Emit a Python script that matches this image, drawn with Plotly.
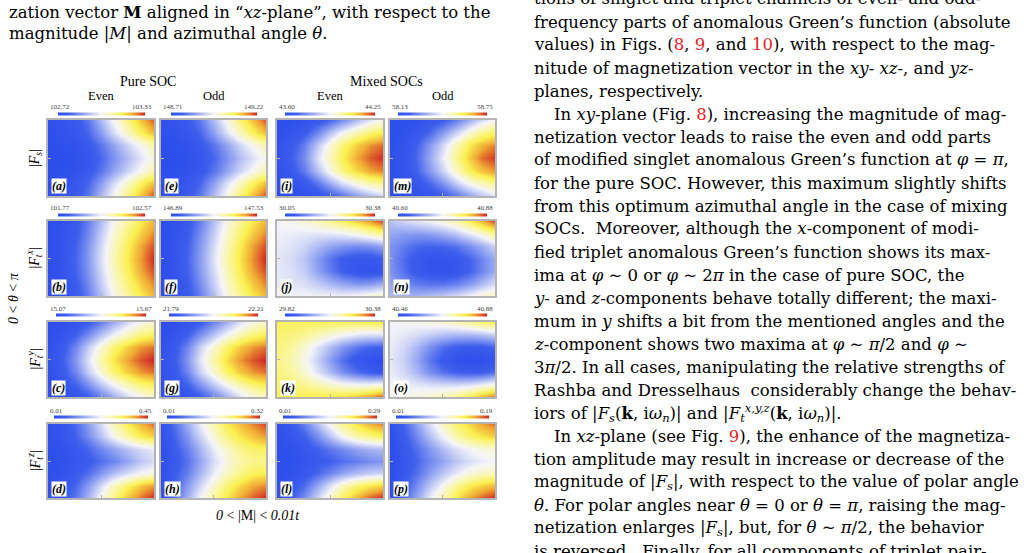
import numpy as np
import plotly.graph_objects as go

W, H = 1029, 553

# ---------------- data ----------------
# sample grid: |M| (horizontal, 0 .. 0.01t) and theta (vertical, 0 .. pi)
M_GRID = [0.0, 0.00125, 0.0025, 0.00375, 0.005, 0.00625, 0.0075, 0.00875, 0.01]
THETA_GRID = [0.0, np.pi / 6, np.pi / 3, np.pi / 2, 2 * np.pi / 3, 5 * np.pi / 6, np.pi]

# colour-bar end values per row (columns: pure even, pure odd, mixed even, mixed odd)
FS_MIN = [102.72, 148.71, 43.60, 58.13]
FS_MAX = [103.33, 149.22, 44.25, 58.75]
FTX_MIN = [101.77, 146.89, 30.05, 40.60]
FTX_MAX = [102.57, 147.53, 30.38, 40.88]
FTY_MIN = [15.07, 21.79, 29.82, 40.46]
FTY_MAX = [15.67, 22.21, 30.38, 40.88]
FTZ_MIN = [0.01, 0.01, 0.01, 0.01]
FTZ_MAX = [0.45, 0.32, 0.29, 0.19]

# relative level (0 = bar minimum, 1 = bar maximum);
# rows listed from theta = pi (top) down to theta = 0 (bottom)
FS_PURE_EVEN = [
    [0.02, 0.04, 0.08, 0.18, 0.35, 0.52, 0.68, 0.82, 0.95],
    [0.01, 0.03, 0.06, 0.14, 0.28, 0.44, 0.58, 0.72, 0.83],
    [0.00, 0.01, 0.03, 0.08, 0.18, 0.30, 0.42, 0.52, 0.62],
    [0.00, 0.00, 0.02, 0.06, 0.14, 0.25, 0.36, 0.46, 0.54],
    [0.00, 0.01, 0.03, 0.08, 0.18, 0.30, 0.42, 0.52, 0.62],
    [0.01, 0.03, 0.06, 0.14, 0.28, 0.44, 0.58, 0.72, 0.83],
    [0.02, 0.04, 0.08, 0.18, 0.35, 0.52, 0.68, 0.82, 0.96],
]
FS_PURE_ODD = [
    [0.02, 0.04, 0.09, 0.19, 0.36, 0.53, 0.69, 0.83, 0.95],
    [0.01, 0.03, 0.06, 0.14, 0.29, 0.45, 0.59, 0.72, 0.83],
    [0.00, 0.01, 0.03, 0.08, 0.18, 0.30, 0.42, 0.52, 0.61],
    [0.00, 0.00, 0.02, 0.06, 0.14, 0.25, 0.36, 0.45, 0.53],
    [0.00, 0.01, 0.03, 0.08, 0.18, 0.30, 0.42, 0.52, 0.61],
    [0.01, 0.03, 0.06, 0.14, 0.29, 0.45, 0.59, 0.72, 0.83],
    [0.02, 0.04, 0.09, 0.19, 0.36, 0.53, 0.69, 0.83, 0.96],
]
FS_MIX_EVEN = [
    [0.00, 0.01, 0.03, 0.07, 0.14, 0.24, 0.36, 0.46, 0.54],
    [0.01, 0.04, 0.10, 0.22, 0.38, 0.52, 0.62, 0.70, 0.74],
    [0.03, 0.08, 0.20, 0.38, 0.55, 0.70, 0.80, 0.88, 0.93],
    [0.04, 0.10, 0.24, 0.44, 0.60, 0.74, 0.86, 0.94, 0.99],
    [0.03, 0.08, 0.19, 0.36, 0.53, 0.68, 0.78, 0.86, 0.90],
    [0.01, 0.03, 0.08, 0.18, 0.32, 0.45, 0.55, 0.62, 0.66],
    [0.00, 0.00, 0.02, 0.05, 0.10, 0.18, 0.28, 0.36, 0.42],
]
FS_MIX_ODD = [
    [0.00, 0.01, 0.02, 0.05, 0.11, 0.20, 0.32, 0.44, 0.52],
    [0.00, 0.02, 0.06, 0.15, 0.28, 0.42, 0.56, 0.66, 0.72],
    [0.01, 0.04, 0.12, 0.26, 0.43, 0.60, 0.74, 0.84, 0.90],
    [0.02, 0.05, 0.14, 0.30, 0.48, 0.65, 0.80, 0.92, 0.98],
    [0.01, 0.04, 0.12, 0.26, 0.42, 0.58, 0.72, 0.82, 0.88],
    [0.00, 0.02, 0.06, 0.14, 0.26, 0.40, 0.52, 0.60, 0.66],
    [0.00, 0.00, 0.02, 0.04, 0.10, 0.18, 0.28, 0.38, 0.46],
]
FTX_PURE_EVEN = [
    [0.00, 0.02, 0.08, 0.20, 0.36, 0.52, 0.64, 0.74, 0.84],
    [0.00, 0.03, 0.10, 0.23, 0.40, 0.56, 0.69, 0.80, 0.90],
    [0.00, 0.04, 0.12, 0.26, 0.43, 0.59, 0.73, 0.86, 0.96],
    [0.00, 0.04, 0.13, 0.27, 0.45, 0.61, 0.75, 0.88, 1.00],
    [0.00, 0.04, 0.12, 0.26, 0.43, 0.59, 0.73, 0.86, 0.96],
    [0.00, 0.03, 0.10, 0.23, 0.40, 0.56, 0.69, 0.80, 0.90],
    [0.00, 0.02, 0.08, 0.20, 0.36, 0.52, 0.64, 0.74, 0.84],
]
FTX_PURE_ODD = [
    [0.00, 0.02, 0.08, 0.20, 0.37, 0.53, 0.65, 0.75, 0.84],
    [0.00, 0.03, 0.10, 0.24, 0.41, 0.57, 0.70, 0.81, 0.90],
    [0.00, 0.04, 0.12, 0.27, 0.44, 0.60, 0.74, 0.87, 0.96],
    [0.00, 0.04, 0.13, 0.28, 0.46, 0.62, 0.76, 0.89, 1.00],
    [0.00, 0.04, 0.12, 0.27, 0.44, 0.60, 0.74, 0.87, 0.96],
    [0.00, 0.03, 0.10, 0.24, 0.41, 0.57, 0.70, 0.81, 0.90],
    [0.00, 0.02, 0.08, 0.20, 0.37, 0.53, 0.65, 0.75, 0.84],
]
FTX_MIX_EVEN = [
    [0.50, 0.52, 0.55, 0.60, 0.65, 0.72, 0.80, 0.88, 0.97],
    [0.49, 0.48, 0.47, 0.46, 0.46, 0.48, 0.52, 0.58, 0.65],
    [0.48, 0.46, 0.42, 0.36, 0.30, 0.26, 0.24, 0.25, 0.30],
    [0.47, 0.44, 0.38, 0.28, 0.18, 0.10, 0.06, 0.06, 0.10],
    [0.47, 0.45, 0.40, 0.30, 0.20, 0.11, 0.05, 0.03, 0.06],
    [0.48, 0.47, 0.45, 0.40, 0.35, 0.30, 0.27, 0.28, 0.33],
    [0.50, 0.50, 0.50, 0.50, 0.50, 0.50, 0.52, 0.56, 0.60],
]
FTX_MIX_ODD = [
    [0.38, 0.42, 0.46, 0.50, 0.55, 0.62, 0.72, 0.84, 0.97],
    [0.30, 0.28, 0.27, 0.28, 0.32, 0.38, 0.46, 0.55, 0.66],
    [0.26, 0.20, 0.15, 0.13, 0.14, 0.17, 0.24, 0.32, 0.42],
    [0.25, 0.16, 0.08, 0.04, 0.04, 0.07, 0.13, 0.22, 0.32],
    [0.26, 0.17, 0.09, 0.04, 0.03, 0.06, 0.12, 0.22, 0.32],
    [0.30, 0.24, 0.20, 0.18, 0.18, 0.21, 0.27, 0.36, 0.45],
    [0.36, 0.34, 0.34, 0.36, 0.40, 0.44, 0.50, 0.56, 0.60],
]
FTY_PURE_EVEN = [
    [0.00, 0.01, 0.04, 0.10, 0.20, 0.32, 0.44, 0.52, 0.57],
    [0.01, 0.04, 0.12, 0.24, 0.38, 0.50, 0.60, 0.68, 0.72],
    [0.02, 0.08, 0.22, 0.40, 0.56, 0.70, 0.80, 0.88, 0.92],
    [0.03, 0.10, 0.26, 0.45, 0.62, 0.76, 0.87, 0.95, 1.00],
    [0.02, 0.08, 0.22, 0.40, 0.56, 0.70, 0.80, 0.88, 0.92],
    [0.01, 0.04, 0.12, 0.24, 0.38, 0.50, 0.60, 0.68, 0.72],
    [0.00, 0.01, 0.04, 0.10, 0.20, 0.32, 0.44, 0.52, 0.57],
]
FTY_PURE_ODD = [
    [0.00, 0.01, 0.04, 0.10, 0.21, 0.33, 0.45, 0.53, 0.58],
    [0.01, 0.04, 0.12, 0.25, 0.39, 0.51, 0.61, 0.69, 0.73],
    [0.02, 0.08, 0.22, 0.41, 0.57, 0.71, 0.81, 0.88, 0.92],
    [0.03, 0.10, 0.26, 0.46, 0.63, 0.77, 0.88, 0.95, 1.00],
    [0.02, 0.08, 0.22, 0.41, 0.57, 0.71, 0.81, 0.88, 0.92],
    [0.01, 0.04, 0.12, 0.25, 0.39, 0.51, 0.61, 0.69, 0.73],
    [0.00, 0.01, 0.04, 0.10, 0.21, 0.33, 0.45, 0.53, 0.58],
]
FTY_MIX_EVEN = [
    [0.72, 0.72, 0.72, 0.72, 0.72, 0.72, 0.72, 0.73, 0.76],
    [0.70, 0.68, 0.65, 0.60, 0.55, 0.50, 0.46, 0.44, 0.44],
    [0.68, 0.64, 0.56, 0.46, 0.36, 0.26, 0.18, 0.13, 0.12],
    [0.67, 0.62, 0.53, 0.41, 0.28, 0.16, 0.07, 0.02, 0.00],
    [0.68, 0.64, 0.56, 0.46, 0.35, 0.24, 0.16, 0.10, 0.08],
    [0.70, 0.69, 0.66, 0.62, 0.58, 0.54, 0.52, 0.52, 0.55],
    [0.73, 0.73, 0.74, 0.75, 0.76, 0.78, 0.82, 0.88, 0.96],
]
FTY_MIX_ODD = [
    [0.50, 0.51, 0.52, 0.54, 0.56, 0.60, 0.65, 0.70, 0.74],
    [0.49, 0.47, 0.44, 0.40, 0.36, 0.34, 0.34, 0.36, 0.40],
    [0.48, 0.43, 0.35, 0.25, 0.16, 0.11, 0.09, 0.10, 0.14],
    [0.47, 0.41, 0.31, 0.19, 0.09, 0.03, 0.01, 0.02, 0.06],
    [0.48, 0.43, 0.35, 0.25, 0.17, 0.12, 0.10, 0.11, 0.16],
    [0.50, 0.49, 0.47, 0.45, 0.44, 0.44, 0.46, 0.50, 0.56],
    [0.51, 0.52, 0.54, 0.57, 0.61, 0.67, 0.75, 0.84, 0.93],
]
FTZ_PURE_EVEN = [
    [0.02, 0.06, 0.14, 0.28, 0.44, 0.60, 0.74, 0.84, 0.92],
    [0.02, 0.05, 0.12, 0.24, 0.38, 0.52, 0.64, 0.74, 0.80],
    [0.01, 0.03, 0.07, 0.14, 0.22, 0.30, 0.38, 0.44, 0.48],
    [0.00, 0.02, 0.05, 0.10, 0.16, 0.22, 0.30, 0.38, 0.44],
    [0.01, 0.03, 0.08, 0.16, 0.26, 0.36, 0.44, 0.50, 0.54],
    [0.02, 0.06, 0.14, 0.28, 0.44, 0.60, 0.72, 0.82, 0.88],
    [0.03, 0.08, 0.18, 0.34, 0.52, 0.68, 0.82, 0.92, 1.00],
]
FTZ_PURE_ODD = [
    [0.02, 0.16, 0.32, 0.48, 0.62, 0.74, 0.82, 0.90, 0.96],
    [0.02, 0.13, 0.26, 0.42, 0.56, 0.68, 0.76, 0.82, 0.88],
    [0.01, 0.10, 0.20, 0.34, 0.48, 0.58, 0.66, 0.70, 0.72],
    [0.01, 0.08, 0.17, 0.30, 0.44, 0.54, 0.62, 0.66, 0.66],
    [0.01, 0.10, 0.20, 0.34, 0.48, 0.58, 0.66, 0.72, 0.74],
    [0.02, 0.13, 0.27, 0.43, 0.57, 0.70, 0.78, 0.86, 0.90],
    [0.02, 0.16, 0.33, 0.50, 0.64, 0.76, 0.86, 0.94, 1.00],
]
FTZ_MIX_EVEN = [
    [0.02, 0.08, 0.20, 0.36, 0.52, 0.66, 0.76, 0.84, 0.90],
    [0.01, 0.05, 0.12, 0.24, 0.38, 0.52, 0.62, 0.68, 0.72],
    [0.00, 0.02, 0.06, 0.12, 0.18, 0.24, 0.30, 0.34, 0.36],
    [0.00, 0.01, 0.04, 0.08, 0.12, 0.16, 0.20, 0.24, 0.26],
    [0.00, 0.02, 0.07, 0.14, 0.22, 0.30, 0.36, 0.40, 0.42],
    [0.02, 0.06, 0.16, 0.30, 0.46, 0.60, 0.70, 0.76, 0.80],
    [0.03, 0.10, 0.24, 0.42, 0.58, 0.72, 0.84, 0.94, 1.00],
]
FTZ_MIX_ODD = [
    [0.02, 0.12, 0.28, 0.44, 0.58, 0.70, 0.78, 0.86, 0.92],
    [0.01, 0.10, 0.22, 0.36, 0.50, 0.62, 0.70, 0.76, 0.80],
    [0.00, 0.07, 0.16, 0.26, 0.36, 0.44, 0.50, 0.54, 0.56],
    [0.00, 0.05, 0.13, 0.22, 0.30, 0.38, 0.44, 0.48, 0.50],
    [0.00, 0.07, 0.16, 0.27, 0.38, 0.47, 0.54, 0.58, 0.60],
    [0.01, 0.10, 0.23, 0.38, 0.52, 0.65, 0.74, 0.80, 0.84],
    [0.02, 0.13, 0.30, 0.47, 0.62, 0.75, 0.86, 0.94, 1.00],
]

COL_HEADERS = ["Even", "Odd", "Even", "Odd"]
GROUP_HEADERS = ["Pure SOC", "Mixed SOCs"]
ROW_LABELS = ["|<i>F<sub>s</sub></i>|", "|<i>F<sub>t</sub><sup>x</sup></i>|",
              "|<i>F<sub>t</sub><sup>y</sup></i>|", "|<i>F<sub>t</sub><sup>z</sup></i>|"]
PANEL_LETTERS = [["a", "e", "i", "m"], ["b", "f", "j", "n"],
                 ["c", "g", "k", "o"], ["d", "h", "l", "p"]]

LEVELS = [
    [FS_PURE_EVEN, FS_PURE_ODD, FS_MIX_EVEN, FS_MIX_ODD],
    [FTX_PURE_EVEN, FTX_PURE_ODD, FTX_MIX_EVEN, FTX_MIX_ODD],
    [FTY_PURE_EVEN, FTY_PURE_ODD, FTY_MIX_EVEN, FTY_MIX_ODD],
    [FTZ_PURE_EVEN, FTZ_PURE_ODD, FTZ_MIX_EVEN, FTZ_MIX_ODD],
]
MINS = [FS_MIN, FTX_MIN, FTY_MIN, FTZ_MIN]
MAXS = [FS_MAX, FTX_MAX, FTY_MAX, FTZ_MAX]

# ---------------- layout / style ----------------
COL_X = [(48, 154), (161, 266), (277, 383), (390, 495)]
ROW_Y = [(120, 196), (221, 296), (322, 397), (424, 498)]

CS = [
    [0.0, "rgb(46,78,236)"],
    [0.12, "rgb(62,94,236)"],
    [0.5, "rgb(244,244,248)"],
    [0.62, "rgb(250,247,170)"],
    [0.74, "rgb(250,240,80)"],
    [0.86, "rgb(240,170,52)"],
    [1.0, "rgb(206,36,36)"],
]

SERIF = "Liberation Serif"
BODY = "DejaVu Serif"
BODY_SIZE = 16.5
RED = "#e8231f"


def px(x):
    return x / W


def py(y):
    return 1 - y / H


def lab_width(s, size=7.0):
    return sum(0.25 if ch == "." else 0.5 for ch in s) * size


fig = go.Figure()
annotations = []

for r in range(4):
    for c in range(4):
        k = r * 4 + c + 1
        xa = "x" if k == 1 else f"x{k}"
        ya = "y" if k == 1 else f"y{k}"
        vmin, vmax = MINS[r][c], MAXS[r][c]
        lv = np.array(LEVELS[r][c], dtype=float)[::-1]
        z = vmin + lv * (vmax - vmin)
        x0, x1 = COL_X[c]
        y0, y1 = ROW_Y[r]
        smin, smax = f"{vmin:.2f}", f"{vmax:.2f}"
        bl = x0 + lab_width(smin) / 2
        br = x1 - lab_width(smax) / 2
        fig.add_trace(go.Heatmap(
            x=M_GRID, y=THETA_GRID, z=z, zmin=vmin, zmax=vmax,
            colorscale=CS, zsmooth="best", xaxis=xa, yaxis=ya,
            hoverinfo="skip",
            colorbar=dict(orientation="h", x=px((bl + br) / 2), xanchor="center",
                          y=py(y0 - 6.5), yanchor="middle", lenmode="pixels",
                          len=br - bl, thickness=2.5, thicknessmode="pixels",
                          outlinewidth=0, showticklabels=False, ticks="",
                          xpad=0, ypad=0),
        ))
        axstyle = dict(showgrid=False, zeroline=False, showticklabels=False,
                       showline=True, mirror=True, linecolor="#b4b4b4", linewidth=1.5,
                       ticks="inside", ticklen=3, tickcolor="#b4b4b4", tickwidth=1)
        fig.layout["xaxis" if k == 1 else f"xaxis{k}"] = dict(
            domain=[px(x0), px(x1)], range=[M_GRID[0], M_GRID[-1]],
            anchor=ya, tickvals=[M_GRID[len(M_GRID) // 2]], **axstyle)
        fig.layout["yaxis" if k == 1 else f"yaxis{k}"] = dict(
            domain=[py(y1), py(y0)], range=[THETA_GRID[0], THETA_GRID[-1]],
            anchor=xa, tickvals=[THETA_GRID[len(THETA_GRID) // 2]], **axstyle)
        # colour-bar end labels
        for txt, xx, anc in ((smin, x0, "left"), (smax, x1, "right")):
            annotations.append(dict(text=txt, x=px(xx), y=py(y0 - 13), xref="paper",
                                    yref="paper", xanchor=anc, yanchor="middle",
                                    showarrow=False,
                                    font=dict(family=SERIF, size=7, color="#444")))
        # panel letter
        annotations.append(dict(text=f"<b><i>({PANEL_LETTERS[r][c]})</i></b>",
                                x=px(x0 + 2.5), y=py(y1 - 1.5), xref="paper", yref="paper",
                                xanchor="left", yanchor="bottom", showarrow=False,
                                bgcolor="white", borderpad=0,
                                font=dict(family=SERIF, size=12, color="black")))

# headers
for c, t in enumerate(COL_HEADERS):
    x0, x1 = COL_X[c]
    annotations.append(dict(text=t, x=px((x0 + x1) / 2), y=py(96), xref="paper", yref="paper",
                            xanchor="center", yanchor="middle", showarrow=False,
                            font=dict(family=SERIF, size=12.5, color="black")))
for g, t in enumerate(GROUP_HEADERS):
    cx = (148 if g == 0 else 386)
    annotations.append(dict(text=t, x=px(cx), y=py(81), xref="paper", yref="paper",
                            xanchor="center", yanchor="middle", showarrow=False,
                            font=dict(family=SERIF, size=14, color="black")))
for r, t in enumerate(ROW_LABELS):
    y0, y1 = ROW_Y[r]
    annotations.append(dict(text=t, x=px(35), y=py((y0 + y1) / 2), xref="paper", yref="paper",
                            xanchor="center", yanchor="middle", showarrow=False, textangle=-90,
                            font=dict(family=SERIF, size=14, color="black")))
annotations.append(dict(text="<i>0</i> &lt; <i>θ</i> &lt; <i>π</i>", x=px(13), y=py(298),
                        xref="paper", yref="paper", xanchor="center", yanchor="middle",
                        showarrow=False, textangle=-90,
                        font=dict(family=SERIF, size=14, color="black")))
annotations.append(dict(text="<i>0</i> &lt; |M| &lt; <i>0.01t</i>", x=px(258), y=py(515),
                        xref="paper", yref="paper", xanchor="center", yanchor="middle",
                        showarrow=False, font=dict(family=SERIF, size=14, color="black")))

# ---------------- surrounding page text ----------------
def red(s):
    return f"<span style='color:{RED}'>{s}</span>"


LEFT_LINES = [
    "zation vector <b>M</b> aligned in “<i>xz</i>-plane”, with respect to the",
    "magnitude |<i>M</i>| and azimuthal angle <i>θ</i>.",
]
LEFT_Y = [12, 34]

RIGHT_LINES = [
    "tions of singlet and triplet channels of even- and odd-",
    "frequency parts of anomalous Green’s function (absolute",
    f"values) in Figs. ({red('8')}, {red('9')}, and {red('10')}), with respect to the mag-",
    "nitude of magnetization vector in the <i>xy</i>- <i>xz</i>-, and <i>yz</i>-",
    "planes, respectively.",
    f"In <i>xy</i>-plane (Fig. {red('8')}), increasing the magnitude of mag-",
    "netization vector leads to raise the even and odd parts",
    "of modified singlet anomalous Green’s function at <i>φ</i> = <i>π</i>,",
    "for the pure SOC. However, this maximum slightly shifts",
    "from this optimum azimuthal angle in the case of mixing",
    "SOCs.  Moreover, although the <i>x</i>-component of modi-",
    "fied triplet anomalous Green’s function shows its max-",
    "ima at <i>φ</i> ∼ 0 or <i>φ</i> ∼ 2<i>π</i> in the case of pure SOC, the",
    "<i>y</i>- and <i>z</i>-components behave totally different; the maxi-",
    "mum in <i>y</i> shifts a bit from the mentioned angles and the",
    "<i>z</i>-component shows two maxima at <i>φ</i> ∼ <i>π</i>/2 and <i>φ</i> ∼",
    "3<i>π</i>/2. In all cases, manipulating the relative strengths of",
    "Rashba and Dresselhaus  considerably change the behav-",
    "iors of |<i>F<sub>s</sub></i>(<b>k</b>, i<i>ω<sub>n</sub></i>)| and "
    "|<i>F<sub>t</sub><sup>x,y,z</sup></i>(<b>k</b>, i<i>ω<sub>n</sub></i>)|.",
    f"In <i>xz</i>-plane (see Fig. {red('9')}), the enhance of the magnetiza-",
    "tion amplitude may result in increase or decrease of the",
    "magnitude of |<i>F<sub>s</sub></i>|, with respect to the value of polar angle",
    "<i>θ</i>. For polar angles near <i>θ</i> = 0 or <i>θ</i> = <i>π</i>, raising the mag-",
    "netization enlarges |<i>F<sub>s</sub></i>|, but, for <i>θ</i> ∼ <i>π</i>/2, the behavior",
    "is reversed.  Finally, for all components of triplet pair-",
]
INDENTED = {5, 19}

for t, yy in zip(LEFT_LINES, LEFT_Y):
    annotations.append(dict(text=t, x=px(7), y=py(yy), xref="paper", yref="paper",
                            xanchor="left", yanchor="middle", showarrow=False,
                            font=dict(family=BODY, size=BODY_SIZE, color="black")))
for i, t in enumerate(RIGHT_LINES):
    yy = -1 + 23.0 * i
    xx = 552 if i in INDENTED else 532
    annotations.append(dict(text=t, x=px(xx), y=py(yy), xref="paper", yref="paper",
                            xanchor="left", yanchor="middle", showarrow=False,
                            font=dict(family=BODY, size=BODY_SIZE, color="black")))

fig.update_layout(
    width=W, height=H, margin=dict(l=0, r=0, t=0, b=0),
    paper_bgcolor="white", plot_bgcolor="white", showlegend=False,
    annotations=annotations, font=dict(family=SERIF),
)

fig.write_html("out.html")
